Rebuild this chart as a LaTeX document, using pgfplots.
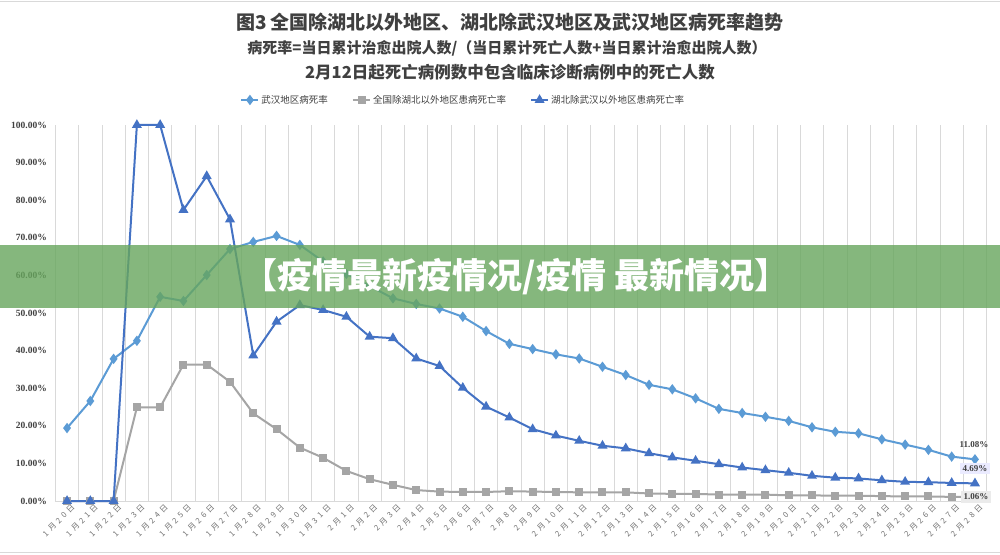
\documentclass[border=0pt]{standalone}
\usepackage{pgfplots}
\pgfplotsset{compat=1.18}
\usepackage{pgfplotstable}
\usepackage{fontspec}
\setmainfont{Liberation Serif}
\newfontfamily\cjk{Noto Sans CJK SC}
\newfontfamily\cjksp[LetterSpace=40]{Noto Sans CJK SC}
\definecolor{wuhan}{HTML}{5B9BD5}
\definecolor{natl}{HTML}{A5A5A5}
\definecolor{hubei}{HTML}{4472C4}
\definecolor{txt}{HTML}{404040}
\definecolor{gridc}{HTML}{D9D9D9}
\definecolor{banner}{RGB}{103,166,93}

\pgfplotstableread{
idx W N H
0 19.4 0 0
1 26.6 0 0
2 37.8 0 0
3 42.6 24.9 100
4 54.3 24.9 100
5 53.2 36.3 77.4
6 60.1 36.3 86.4
7 67.0 31.7 74.9
8 68.9 23.3 38.7
9 70.5 19.1 47.7
10 68.1 14.2 52.1
11 63.7 11.5 50.8
12 60.4 8.0 49.0
13 57.2 5.8 43.7
14 53.9 4.3 43.3
15 52.4 2.9 37.9
16 51.2 2.5 35.9
17 49.0 2.4 30.1
18 45.2 2.4 25.1
19 41.8 2.6 22.2
20 40.4 2.5 19.1
21 39.0 2.4 17.4
22 37.9 2.3 16.0
23 35.7 2.3 14.7
24 33.5 2.3 14.0
25 30.9 2.0 12.7
26 29.7 1.9 11.6
27 27.3 1.9 10.7
28 24.5 1.7 9.8
29 23.4 1.7 8.9
30 22.4 1.7 8.2
31 21.3 1.5 7.5
32 19.6 1.5 6.7
33 18.4 1.4 6.2
34 18.0 1.4 6.0
35 16.4 1.3 5.5
36 15.0 1.2 5.1
37 13.6 1.2 5.0
38 11.8 1.1 4.8
39 11.08 1.06 4.69
}\datatable

\begin{document}
\begin{tikzpicture}
\useasboundingbox (0pt,0pt) rectangle (1000pt,554pt);
\fill[white] (0pt,0pt) rectangle (1000pt,554pt);
\draw[gridc, line width=0.8pt] (0pt,552.5pt) -- (1000pt,552.5pt);
\draw[gridc, line width=0.8pt] (0pt,1.5pt) -- (1000pt,1.5pt);

\node[font=\cjk\bfseries\fontsize{19}{21}\selectfont, text=txt] at (510pt,532pt) {图3 全国除湖北以外地区、湖北除武汉地区及武汉地区病死率趋势};
\node[font=\cjk\bfseries\fontsize{15}{17}\selectfont, text=txt] at (507pt,506pt) {病死率=当日累计治愈出院人数/（当日累计死亡人数+当日累计治愈出院人数）};
\node[font=\cjk\bfseries\fontsize{16.5}{18}\selectfont, text=txt] at (510pt,482pt) {2月12日起死亡病例数中包含临床诊断病例中的死亡人数};

\begin{axis}[
  at={(55.4pt,53pt)}, anchor=south west,
  scale only axis, width=931.2pt, height=376pt,
  xmin=-0.5, xmax=39.5, ymin=0, ymax=100,
  clip=false,
  axis x line*=bottom, axis y line*=left,
  x axis line style={draw=gridc, line width=0.8pt, -},
  y axis line style={draw=none},
  major tick length=0pt, minor tick length=0pt,
  xtick={0,...,39},
  minor xtick={-0.5,0.5,...,39.5},
  xminorgrids=true, xmajorgrids=false, ymajorgrids=false,
  minor grid style={gridc, line width=0.8pt},
  xticklabels={1月20日,1月21日,1月22日,1月23日,1月24日,1月25日,1月26日,1月27日,1月28日,1月29日,1月30日,1月31日,2月1日,2月2日,2月3日,2月4日,2月5日,2月6日,2月7日,2月8日,2月9日,2月10日,2月11日,2月12日,2月13日,2月14日,2月15日,2月16日,2月17日,2月18日,2月19日,2月20日,2月21日,2月22日,2月23日,2月24日,2月25日,2月26日,2月27日,2月28日},
  xticklabel style={rotate=45, anchor=east, font=\cjksp\fontsize{7.8}{8}\selectfont, text=black!55, inner sep=1pt, xshift=2pt, yshift=-8pt},
  ytick={0,10,...,100},
  /pgf/number format/assume math mode=true,
  yticklabel={\pgfmathprintnumber[fixed,fixed zerofill,precision=2]{\tick}\%},
  yticklabel style={font=\bfseries\fontsize{9.5}{10}\selectfont, text=txt, xshift=-5pt},
  legend columns=3,
  legend style={draw=none, fill=none, at={(0.438,1.0665)}, anchor=center,
    font=\cjk\fontsize{9.5}{10}\selectfont, text=txt,
    /tikz/every even column/.append style={column sep=22pt}},
  legend cell align=left,
]
\addplot[wuhan, line width=2pt, mark=diamond*, mark size=3.6pt, mark options={solid}] table[x=idx,y=W] {\datatable};
\addlegendentry{武汉地区病死率}
\addplot[natl, line width=2pt, mark=square*, mark size=3pt, mark options={solid}] table[x=idx,y=N] {\datatable};
\addlegendentry{全国除湖北以外地区患病死亡率}
\addplot[hubei, line width=2pt, mark=triangle*, mark size=3.8pt, mark options={solid}] table[x=idx,y=H] {\datatable};
\addlegendentry{湖北除武汉以外地区患病死亡率}

\coordinate (pw) at (axis cs:39,11.08);
\coordinate (ph) at (axis cs:39,4.69);
\coordinate (pn) at (axis cs:39,1.06);
\end{axis}

\node[font=\bfseries\fontsize{9}{10}\selectfont, text=txt, inner sep=2pt] at (pw) [yshift=15pt, xshift=-1pt] {11.08\%};
\node[font=\bfseries\fontsize{9}{10}\selectfont, text=txt, fill=blue!8!white, inner sep=2.5pt] at (ph) [yshift=15pt] {4.69\%};
\node[font=\bfseries\fontsize{9}{10}\selectfont, text=txt, fill=black!8, inner sep=2.5pt] at (pn) [xshift=1pt] {1.06\%};

\fill[banner, opacity=0.8] (0pt,246pt) rectangle (1000pt,309pt);
\node[font=\cjk\bfseries\fontsize{35}{37}\selectfont, text=white] at (516pt,277pt) {【疫情最新疫情况/疫情 最新情况】};
\end{tikzpicture}
\end{document}
